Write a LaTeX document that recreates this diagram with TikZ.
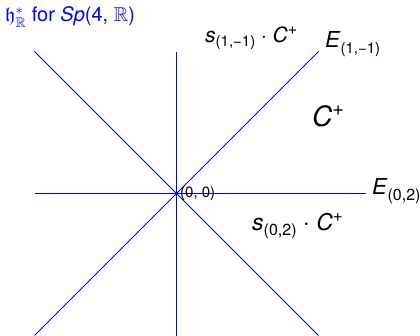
\documentclass[tikz,border=0pt]{standalone}
\usepackage{amssymb}
\usepackage{fontspec}
\setmainfont{TeX Gyre Heros}
\begin{document}
\begin{tikzpicture}[x=1pt,y=-1pt,
  axis/.style={draw=blue,line width=1pt},
  lbl/.style={anchor=base west,inner sep=0pt,text=black}]
\useasboundingbox (0,0) rectangle (420,336);
\coordinate (O) at (176.5,193.5);
\coordinate (nw) at (34.5,51.5);
\coordinate (ne) at (318.5,51.5);
\coordinate (sw) at (34.5,335.5);
\coordinate (se) at (318.5,335.5);
\coordinate (n) at (176.5,52);
\coordinate (s) at (176.5,336);
\coordinate (w) at (35,193.5);
\coordinate (e) at (366,193.5);
\draw[axis] (sw) -- (ne);
\draw[axis] (nw) -- (se);
\draw[axis] (n) -- (s);
\draw[axis] (w) -- (e);
\node[lbl,text=blue,font=\fontsize{20}{22}\selectfont] (title) at (5,22)
  {$\mathfrak{h}^*_{\mathbb{R}}$ for \textit{Sp}(4, $\mathbb{R}$)};
\node[lbl,font=\fontsize{21}{23}\selectfont] (s1) at (205,43)
  {\textit{s}\raisebox{-0.35ex}{\fontsize{15}{16}\selectfont (1,−1)} $\cdot$ \textit{C}\raisebox{0.75ex}{\fontsize{16}{17}\selectfont +}};
\node[lbl,font=\fontsize{22}{24}\selectfont] (E1) at (325,48)
  {\textit{E}\raisebox{-0.45ex}{\fontsize{15}{16}\selectfont (1,−1)}};
\node[lbl,font=\fontsize{28}{30}\selectfont] (C) at (312,127)
  {\textit{C}\raisebox{0.75ex}{\fontsize{20}{21}\selectfont +}};
\node[lbl,font=\fontsize{22}{24}\selectfont] (E2) at (372,195)
  {\textit{E}\raisebox{-0.45ex}{\fontsize{16}{17}\selectfont (0,2)}};
\node[lbl,font=\fontsize{15}{17}\selectfont] (o) at (180,198) {(0, 0)};
\node[lbl,font=\fontsize{23}{25}\selectfont] (s2) at (252,231)
  {\textit{s}\raisebox{-0.35ex}{\fontsize{16}{17}\selectfont (0,2)} $\cdot$ \textit{C}\raisebox{0.75ex}{\fontsize{17}{18}\selectfont +}};
\end{tikzpicture}
\end{document}
